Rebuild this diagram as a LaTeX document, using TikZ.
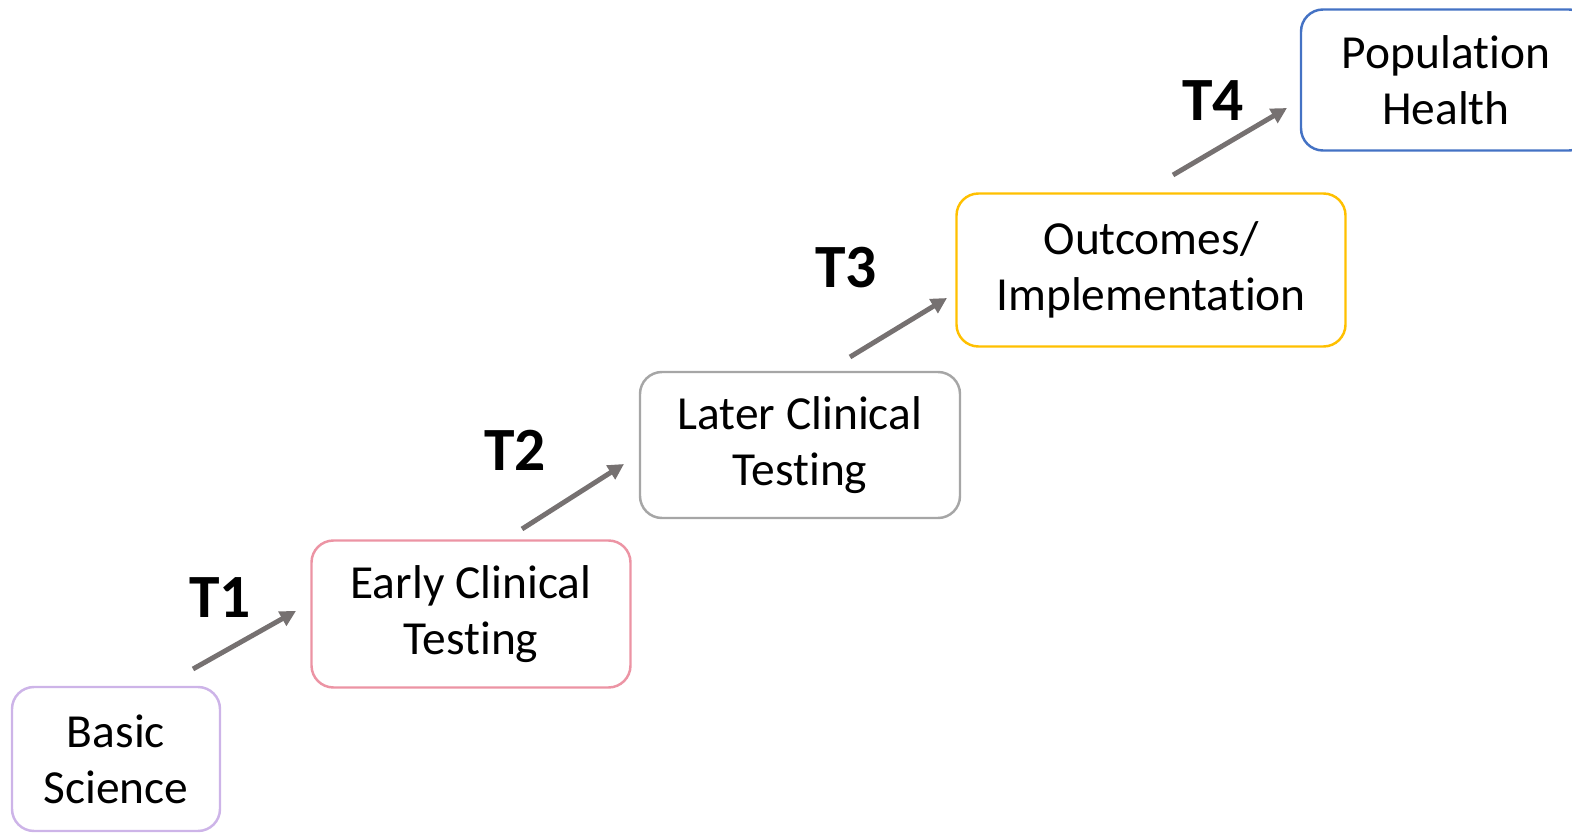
\documentclass[tikz,border=0pt]{standalone}
\usepackage{fontspec}
\setmainfont{Carlito}[Ligatures=NoCommon]
\usepackage{tikz}
\usetikzlibrary{shapes, arrows.meta, calc, positioning}

\definecolor{basiccol}{HTML}{CDB4E8}
\definecolor{earlycol}{HTML}{EC94A4}
\definecolor{latercol}{HTML}{A6A6A6}
\definecolor{outcol}{HTML}{FFC000}
\definecolor{popcol}{HTML}{4472C4}
\definecolor{arrcol}{HTML}{767171}

\begin{document}
\begin{tikzpicture}[x=0.02cm,y=-0.02cm,
    stage/.style={draw,rounded corners=0.44cm,line width=1.4pt,fill=white,
      align=center,font=\fontsize{27}{32}\selectfont,inner sep=0pt},
    tlabel/.style={font=\fontsize{35}{40}\selectfont\bfseries},
    step arrow/.style={draw=arrcol,line width=2.8pt,-{Triangle[length=9pt,width=9pt]}}]
            \useasboundingbox (0,0) rectangle (1572,834);

            \node[stage,draw=basiccol,minimum width=208*0.02cm,minimum height=144*0.02cm] (basic) at (116,759) {Basic\\Science};
            \node[stage,draw=earlycol,minimum width=319*0.02cm,minimum height=147*0.02cm] (early) at (471,614) {Early Clinical\\Testing};
            \node[stage,draw=latercol,minimum width=320*0.02cm,minimum height=146*0.02cm] (later) at (800,445) {Later Clinical\\Testing};
            \node[stage,draw=outcol,minimum width=389*0.02cm,minimum height=153*0.02cm] (outcomes) at (1151,270) {Outcomes/\\Implementation};
            \node[stage,draw=popcol,minimum width=290*0.02cm,minimum height=141*0.02cm] (pop) at (1446,80) {Population\\Health};

            \node[tlabel] (t_1) at (220,598) {T1};
            \node[tlabel] (t_2) at (515,450) {T2};
            \node[tlabel] (t_3) at (846,268) {T3};
            \node[tlabel] (t_4) at (1213,101) {T4};

            % arrow ends
            \coordinate (a_1) at (193,669);
            \coordinate (b_1) at (296,611);
            \coordinate (a_2) at (522,529);
            \coordinate (b_2) at (624,464);
            \coordinate (a_3) at (850,357);
            \coordinate (b_3) at (947,298);
            \coordinate (a_4) at (1173,175);
            \coordinate (b_4) at (1287,108);

            \draw [step arrow] (a_1) -- (b_1);
            \draw [step arrow] (a_2) -- (b_2);
            \draw [step arrow] (a_3) -- (b_3);
            \draw [step arrow] (a_4) -- (b_4);
        \end{tikzpicture}
\end{document}
